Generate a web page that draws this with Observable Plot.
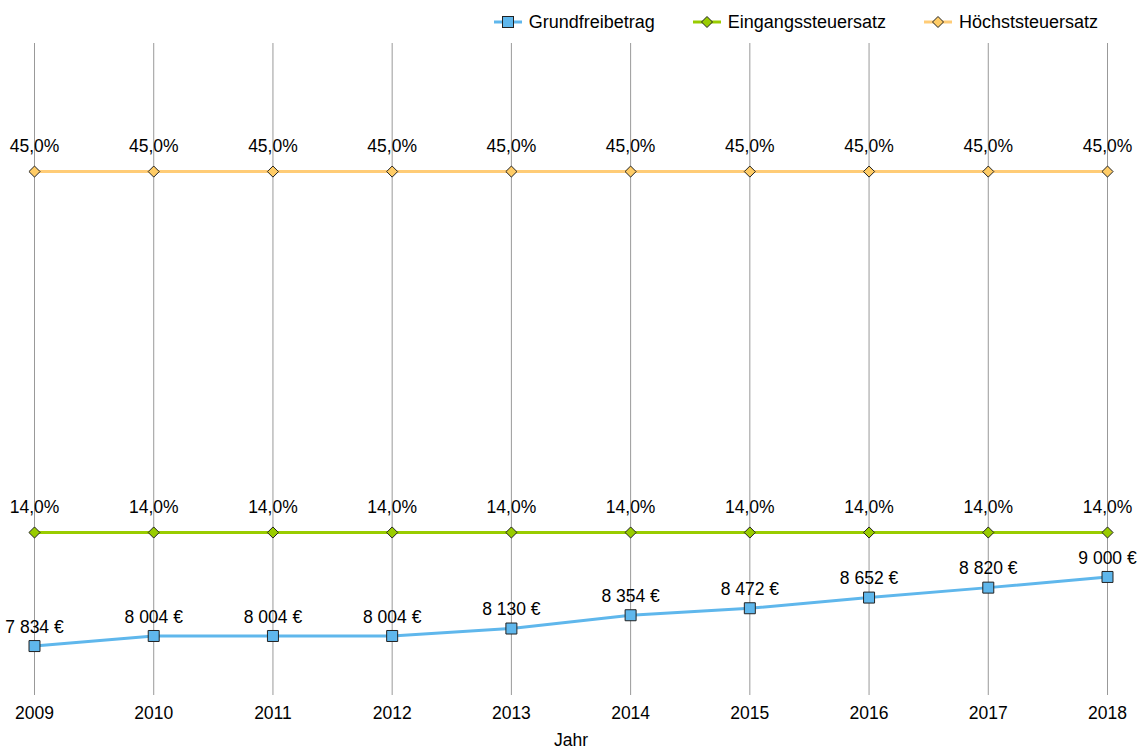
<!DOCTYPE html>
<html><head><meta charset="utf-8">
<script src="https://cdn.jsdelivr.net/npm/d3@7"></script>
<script src="https://cdn.jsdelivr.net/npm/@observablehq/plot@0.6"></script>
<style>
body{margin:0;background:#fff;font-family:"Liberation Sans",Arial,sans-serif;}
#legend{height:40px;display:flex;justify-content:flex-end;align-items:center;padding-right:48px;padding-top:4px;box-sizing:border-box;font-size:18px;color:#000;}
.item{display:flex;align-items:center;margin-left:38px;}
.item svg{margin-right:7px;}
</style></head>
<body>
<div id="legend"></div>
<div id="chart"></div>
<script>
const years = [2009, 2010, 2011, 2012, 2013, 2014, 2015, 2016, 2017, 2018];
const grundfreibetrag = [7834, 8004, 8004, 8004, 8130, 8354, 8472, 8652, 8820, 9000];
const eingangssteuersatz = [14, 14, 14, 14, 14, 14, 14, 14, 14, 14];
const hoechststeuersatz = [45, 45, 45, 45, 45, 45, 45, 45, 45, 45];
const seriesNames = ["Grundfreibetrag", "Eingangssteuersatz", "Höchststeuersatz"];
const colors = ["#5fb7ec", "#99cc00", "#ffcc77"];
const fills = ["#5fb7ec", "#99cc00", "#ffcc66"];

// two hidden value axes: euro [7000, 18000], percent [0, 56]
const euroDomain = [7000, 18000];
const pctDomain = [0, 56];
const yEuro = e => (e - euroDomain[0]) / (euroDomain[1] - euroDomain[0]);
const yPct = p => (p - pctDomain[0]) / (pctDomain[1] - pctDomain[0]);

const loc = d3.formatLocale({decimal: ",", thousands: "\u00a0", grouping: [3], currency: ["", "\u00a0€"]});
const fEuro = v => loc.format(",d")(v) + " €";
const fPct = v => loc.format(".1f")(v) + "%";

const rowsE = years.map((y, i) => ({year: y, v: grundfreibetrag[i]}));
const rowsG = years.map((y, i) => ({year: y, v: eingangssteuersatz[i]}));
const rowsH = years.map((y, i) => ({year: y, v: hoechststeuersatz[i]}));

// legend
const legend = document.getElementById("legend");
const sym = ["square", "diamond", "diamond"];
seriesNames.forEach((n, i) => {
  const d = document.createElement("div");
  d.className = "item";
  const shape = sym[i] === "square"
    ? `<rect x="8.5" y="5.5" width="11" height="11" fill="${fills[i]}" stroke="#222" stroke-width="1"/>`
    : `<path d="M14 5.5 L19.5 11 L14 16.5 L8.5 11 Z" fill="${fills[i]}" stroke="#222" stroke-width="1"/>`;
  d.innerHTML = `<svg width="28" height="22"><line x1="0" x2="28" y1="11" y2="11" stroke="${colors[i]}" stroke-width="3"/>${shape}</svg><span>${n}</span>`;
  legend.appendChild(d);
});

const FS = 17.5;
const chart = Plot.plot({
  width: 1146,
  height: 709,
  marginLeft: 34,
  marginRight: 39,
  marginTop: 3,
  marginBottom: 54,
  style: {fontFamily: "'Liberation Sans', Arial, sans-serif", fontSize: FS + "px", color: "#000", background: "#fff"},
  x: {domain: [2009, 2018]},
  y: {domain: [0, 1], axis: null},
  marks: [
    Plot.gridX(years, {stroke: "#999", strokeOpacity: 1, strokeWidth: 1}),
    Plot.axisX(years, {tickSize: 0, tickPadding: 11, tickFormat: d => String(d), fontSize: FS, label: "Jahr", labelAnchor: "center", labelArrow: "none", labelOffset: 50}),
    Plot.line(rowsH, {x: "year", y: d => yPct(d.v), stroke: colors[2], strokeWidth: 3}),
    Plot.line(rowsG, {x: "year", y: d => yPct(d.v), stroke: colors[1], strokeWidth: 3}),
    Plot.line(rowsE, {x: "year", y: d => yEuro(d.v), stroke: colors[0], strokeWidth: 3}),
    Plot.dot(rowsH, {x: "year", y: d => yPct(d.v), symbol: "diamond2", r: 5, fill: fills[2], stroke: "#222", strokeWidth: 1}),
    Plot.dot(rowsG, {x: "year", y: d => yPct(d.v), symbol: "diamond2", r: 5, fill: fills[1], stroke: "#222", strokeWidth: 1}),
    Plot.dot(rowsE, {x: "year", y: d => yEuro(d.v), symbol: "square", r: 6.2, fill: fills[0], stroke: "#222", strokeWidth: 1}),
    Plot.text(rowsH, {x: "year", y: d => yPct(d.v), text: d => fPct(d.v), dy: -25, fontSize: FS, fill: "#000"}),
    Plot.text(rowsG, {x: "year", y: d => yPct(d.v), text: d => fPct(d.v), dy: -25, fontSize: FS, fill: "#000"}),
    Plot.text(rowsE, {x: "year", y: d => yEuro(d.v), text: d => fEuro(d.v), dy: -19, fontSize: FS, fill: "#000"})
  ]
});
document.getElementById("chart").appendChild(chart);
</script>
</body></html>
